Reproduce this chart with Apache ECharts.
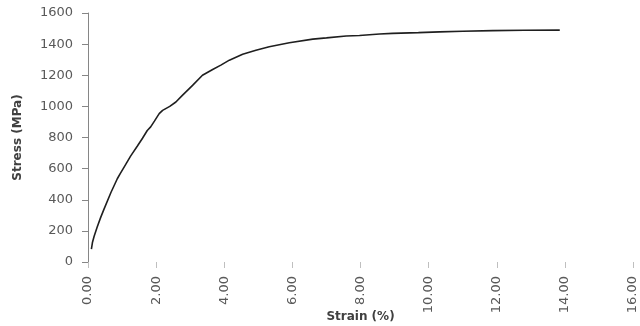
<!DOCTYPE html>
<html>
<head>
<meta charset="utf-8">
<script src="https://cdn.jsdelivr.net/npm/echarts@6/dist/echarts.min.js"></script>
<style>html,body{margin:0;padding:0;background:#fff}#c{width:640px;height:326px}</style>
</head>
<body>
<div id="c"></div>
<script>
var strain = [0.10, 0.13, 0.18, 0.27, 0.37, 0.47, 0.67, 0.86, 0.95, 1.06, 1.25, 1.45, 1.60, 1.74, 1.84, 1.95, 2.09, 2.19, 2.40, 2.58, 2.77, 3.07, 3.36, 3.66, 3.90, 4.15, 4.54, 4.93, 5.32, 5.91, 6.60, 7.00, 7.58, 7.97, 8.56, 8.94, 9.70, 10.32, 11.00, 11.88, 12.80, 13.85];
var stress = [82, 125, 165, 225, 285, 340, 445, 535, 570, 610, 680, 745, 795, 845, 868, 905, 953, 974, 1000, 1028, 1071, 1135, 1200, 1237, 1265, 1297, 1335, 1361, 1383, 1409, 1432, 1440, 1452, 1455, 1465, 1469, 1474, 1479, 1483, 1487, 1489, 1490];
var xName = 'Strain (%)';
var yName = 'Stress (MPa)';

var pts = strain.map(function (s, i) { return [s, stress[i]]; });
var font = 'DejaVu Sans';
var chart = echarts.init(document.getElementById('c'), null, {renderer: 'canvas'});
chart.setOption({
  animation: false,
  grid: {left: 88, right: 7, top: 13, bottom: 64, containLabel: false, outerBoundsMode: 'none'},
  xAxis: {
    type: 'value', min: 0, max: 16, interval: 2,
    name: xName, nameLocation: 'middle', nameGap: 49, nameMoveOverlap: false,
    nameTextStyle: {fontFamily: font, fontWeight: 'bold', fontSize: 12, color: '#404040'},
    axisLine: {show: false},
    axisTick: {show: true, length: 6, lineStyle: {color: '#bfbfbf'}},
    splitLine: {show: false},
    axisLabel: {rotate: 90, margin: 14, fontFamily: font, fontSize: 13, color: '#595959',
      formatter: function (v) { return v.toFixed(2); }}
  },
  yAxis: {
    type: 'value', min: 0, max: 1600, interval: 200,
    name: yName, nameLocation: 'middle', nameGap: 64, nameMoveOverlap: false,
    nameTextStyle: {fontFamily: font, fontWeight: 'bold', fontSize: 12, color: '#404040'},
    axisLine: {show: true, lineStyle: {color: '#868686'}},
    axisTick: {show: true, length: 6, lineStyle: {color: '#868686'}},
    splitLine: {show: false},
    axisLabel: {margin: 15, fontFamily: font, fontSize: 13, color: '#595959',
      formatter: function (v) { return String(v); }}
  },
  series: [{
    type: 'line', data: pts, showSymbol: false, smooth: false,
    lineStyle: {color: '#1f1f1f', width: 1.6}
  }]
});
</script>
</body>
</html>
